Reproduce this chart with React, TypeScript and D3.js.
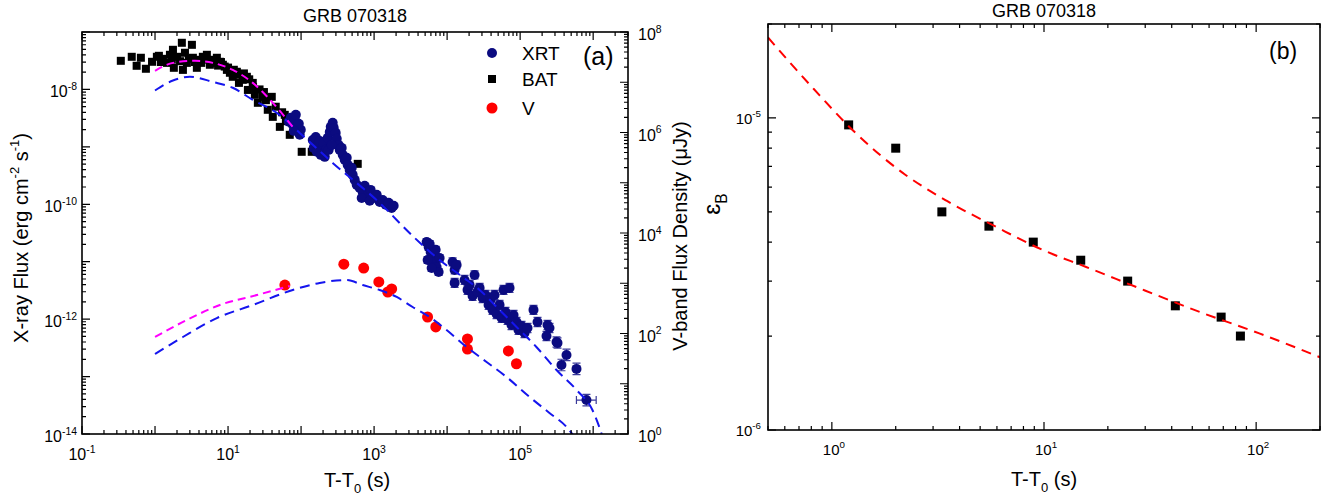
import { useEffect, useRef } from 'react';
import * as d3 from 'd3';

// ---- panel (a) data: t - T0 [s] vs flux ----
// BAT points [t, flux erg cm^-2 s^-1]
const batData: [number, number][] = [
  [0.34, 3.15e-8], [0.48, 3.7e-8], [0.56, 2.58e-8], [0.64, 3.56e-8], [0.75, 2.29e-8],
  [0.91, 3.03e-8], [1.06, 3.7e-8], [1.13, 3.85e-8], [1.2, 3.0e-8], [1.28, 3.41e-8],
  [1.46, 2.9e-8], [1.6, 4.01e-8], [1.7, 3.3e-8], [1.76, 4.9e-8], [1.81, 2.38e-8],
  [2.0, 3.7e-8], [2.2, 3.1e-8], [2.33, 6.49e-8], [2.41, 2.19e-8], [2.57, 4.35e-8],
  [2.73, 2.9e-8], [2.9, 3.4e-8], [3.2, 5.98e-8], [3.3, 3.56e-8], [3.5, 3.0e-8],
  [3.74, 2.38e-8], [4.11, 3.28e-8], [4.3, 2.9e-8], [4.52, 3.7e-8], [4.8, 3.3e-8],
  [5.13, 4.01e-8], [5.64, 2.69e-8], [5.9, 3.1e-8], [6.19, 3.28e-8], [6.6, 2.9e-8],
  [7.03, 3.56e-8], [7.3, 2.6e-8], [7.73, 3.03e-8], [8.0, 3.0e-8], [8.49, 2.69e-8],
  [9.0, 2.5e-8], [9.64, 2.19e-8], [10, 2.4e-8], [10.6, 1.95e-8], [11.6, 1.66e-8],
  [12, 2.2e-8], [13.2, 2.03e-8], [13.5, 1.8e-8], [14.1, 1.3e-8], [15.9, 1.47e-8],
  [16.5, 1.9e-8], [18.1, 1.66e-8], [18.7, 9.8e-9], [19.5, 1.5e-8], [21.8, 1.3e-8],
  [22, 1.1e-8], [23.3, 8.05e-9], [25.6, 5.85e-9], [27, 1.0e-8], [29.9, 7.43e-9],
  [31, 9e-9], [33, 6.5e-9], [35, 4.42e-9], [39.7, 7.43e-9], [41, 3.33e-9],
  [45, 5e-9], [51.2, 2.23e-9], [55, 4e-9], [59.8, 3.61e-9], [62, 2.8e-9],
  [70, 1.62e-9], [80, 2.0e-9], [102, 8.2e-10], [140, 8.2e-10], [597, 5.06e-10],
];

// XRT points [t, flux, error in dex]
const xrtData: [number, number, number][] = [
  [67.9, 2.73e-9, 0.04], [72.3, 3.2e-9, 0.04], [76.9, 2.42e-9, 0.04], [82, 2.95e-9, 0.04],
  [87.3, 2.14e-9, 0.04], [93.1, 2.52e-9, 0.04], [99.1, 1.98e-9, 0.04], [84.7, 3.61e-9, 0.04],
  [95.9, 1.62e-9, 0.04], [79.4, 1.9e-9, 0.04],
  [144.5, 1.32e-9, 0.04], [159, 1.49e-9, 0.04], [169, 1.08e-9, 0.04], [180, 1.27e-9, 0.04],
  [192, 9.6e-10, 0.04], [205, 1.17e-9, 0.04], [218, 8.87e-10, 0.04], [232, 1.44e-9, 0.04],
  [247, 1.82e-9, 0.04], [255, 2.23e-9, 0.04], [271, 2.62e-9, 0.04], [280, 2.14e-9, 0.04],
  [298, 1.75e-9, 0.04], [308, 1.38e-9, 0.04], [328, 1.08e-9, 0.04], [338, 8.87e-10, 0.04],
  [360, 9.6e-10, 0.04], [372, 7.26e-10, 0.04], [396, 5.94e-10, 0.04], [422, 6.43e-10, 0.04],
  [435, 4.85e-10, 0.04], [463, 3.97e-10, 0.04], [494, 4.31e-10, 0.04], [509, 3.25e-10, 0.04],
  [543, 2.66e-10, 0.04], [149, 9.6e-10, 0.04], [164, 8.2e-10, 0.04], [186, 7.26e-10, 0.04],
  [211, 6.7e-10, 0.04], [239, 8.87e-10, 0.04], [263, 1.08e-9, 0.04],
  [578, 2.18e-10, 0.05], [635, 1.93e-10, 0.05], [698, 1.64e-10, 0.05], [743, 2.1e-10, 0.05],
  [817, 1.46e-10, 0.05], [897, 1.78e-10, 0.05], [988, 1.29e-10, 0.05], [1086, 1.46e-10, 0.05],
  [1194, 1.1e-10, 0.05], [1312, 1.19e-10, 0.05], [1442, 9.8e-11, 0.05], [1585, 1.06e-10, 0.05],
  [1742, 8.65e-11, 0.05], [1854, 9.4e-11, 0.05], [676, 1.29e-10, 0.05], [871, 1.15e-10, 0.05],
  [5248, 2.21e-11, 0.06], [5585, 1.81e-11, 0.06], [5943, 1.48e-11, 0.06], [6339, 1.21e-11, 0.06],
  [6745, 9.9e-12, 0.06], [7178, 8.1e-12, 0.06], [7656, 6.64e-12, 0.06], [5408, 1.07e-11, 0.06],
  [6138, 7.8e-12, 0.06], [6966, 1.61e-11, 0.06], [7889, 1.16e-11, 0.06], [5768, 2.04e-11, 0.06],
  [11885, 9.9e-12, 0.07], [12677, 7.2e-12, 0.07], [12677, 4.28e-12, 0.08], [13490, 8.8e-12, 0.07],
  [17338, 4.82e-12, 0.08], [19055, 3.23e-12, 0.08], [20324, 3.95e-12, 0.08], [22336, 2.54e-12, 0.08],
  [23768, 5.89e-12, 0.07], [26122, 2.98e-12, 0.08], [27861, 3.5e-12, 0.08], [30620, 2.34e-12, 0.08],
  [33651, 2.64e-12, 0.08], [36983, 1.77e-12, 0.08], [39355, 2.16e-12, 0.08], [41879, 1.45e-12, 0.08],
  [44668, 2.64e-12, 0.08], [47534, 1.23e-12, 0.08], [52240, 1.77e-12, 0.08], [55719, 1.05e-12, 0.08],
  [59293, 3.23e-12, 0.08], [63096, 1.33e-12, 0.08], [67298, 9.7e-13, 0.08], [71614, 3.5e-12, 0.08],
  [76208, 7.9e-13, 0.08], [81283, 1.18e-12, 0.08], [89330, 8.9e-13, 0.08], [95060, 6.5e-13, 0.08],
  [104472, 7.6e-13, 0.08], [114815, 5.75e-13, 0.08], [126183, 7.0e-13, 0.08], [152405, 1.45e-12, 0.08],
  [172982, 8.9e-13, 0.08], [237137, 7.9e-13, 0.08], [252348, 7.0e-13, 0.08], [229615, 5.1e-13, 0.08],
  [314775, 4.0e-13, 0.09], [325087, 3.85e-13, 0.09], [368129, 1.59e-13, 0.1], [431519, 2.38e-13, 0.1],
  [591562, 1.36e-13, 0.1], [809096, 3.9e-14, 0.1],
];
// horizontal error bars [t, flux, tLow, tHigh]
const xrtTimeErr: [number, number, number, number][] = [[809096, 3.9e-14, 5.9e5, 1.1e6]];

// V band [t, flux density uJy]
const vData: [number, number][] = [
  [60, 920], [385, 2400], [720, 2000], [1160, 1060], [1540, 670], [1740, 770],
  [5400, 213], [7000, 135], [19000, 78], [19000, 49], [69000, 45], [89000, 25],
];

// model curves
const xModelBlue: [number, number][] = [
  [1.0, 9.57e-9], [1.76, 1.43e-8], [3.0, 1.66e-8], [6.2, 1.35e-8], [11.6, 1.07e-8],
  [21.8, 6.59e-9], [46.5, 3.91e-9], [96, 1.75e-9], [271, 5.26e-10], [1190, 1.06e-10],
  [3370, 2.81e-11], [7890, 1.07e-11], [16300, 5.43e-12], [27900, 3.23e-12], [47500, 1.63e-12],
  [89300, 7.31e-13], [167000, 3.28e-13], [315000, 1.3e-13], [592000, 5.85e-14],
  [977000, 2.62e-14], [1.47e6, 6.4e-15],
];
const xModelMagenta: [number, number][] = [
  [1.0, 2.11e-8], [1.76, 2.9e-8], [3.52, 3.15e-8], [6.19, 2.9e-8], [11.6, 2.19e-8],
  [21.8, 1.3e-8], [41, 5.85e-9], [76.9, 2.23e-9],
];
const vModelBlue: [number, number][] = [
  [1.0, 39.1], [2.41, 85.2], [7.03, 203], [21.8, 369], [76.9, 734], [180, 1012],
  [422, 1161], [698, 923], [1190, 734], [2040, 533], [3370, 337], [5770, 213],
  [9840, 117], [18500, 53.9], [34700, 27.1], [65200, 13.6], [135000, 5.45],
  [252000, 2.62], [432000, 1.38], [555000, 0.87],
];
const vModelMagenta: [number, number][] = [
  [1.0, 85.2], [2.73, 186], [7.73, 369], [24.8, 583], [70, 881],
];

// ---- panel (b) data: epsilon_B ----
const ebTime = [1.2, 2.0, 3.3, 5.5, 8.9, 14.9, 24.8, 41.6, 68.4, 84.3];
const ebValue = [9.5e-6, 8.0e-6, 5.0e-6, 4.5e-6, 4.0e-6, 3.5e-6, 3.0e-6, 2.5e-6, 2.3e-6, 2.0e-6];
const ebFit: [number, number][] = [
  [0.5, 1.81e-5], [0.82, 1.24e-5], [1.29, 8.97e-6], [2.21, 6.59e-6], [3.47, 5.43e-6],
  [5.93, 4.48e-6], [9.91, 3.77e-6], [15.8, 3.33e-6], [29.9, 2.8e-6], [56.9, 2.36e-6],
  [103.5, 2.04e-6], [200, 1.71e-6],
];

const xExpA = [-1, 1, 3, 5];
const yExpA = [-14, -12, -10, -8];
const vExpA = [0, 2, 4, 6, 8];
const xExpB = [0, 1, 2];
const yExpB = [-6, -5];

const FONT = '"Liberation Sans", Arial, Helvetica, sans-serif';
const NAVY = '#0b0b80';

function logTicks(lo: number, hi: number) {
  const out: { v: number; major: boolean }[] = [];
  for (let e = Math.floor(Math.log10(lo)); e <= Math.ceil(Math.log10(hi)); e++) {
    for (let k = 1; k < 10; k++) {
      const v = k * Math.pow(10, e);
      if (v >= lo * 0.999 && v <= hi * 1.001) out.push({ v, major: k === 1 });
    }
  }
  return out;
}

// text made of normal / sup / sub parts
function richText(sel: any, parts: [string, string][], size: number) {
  let shift = 0;
  parts.forEach(([txt, kind]) => {
    const target = kind === 'sup' ? -0.45 * size : kind === 'sub' ? 0.3 * size : 0;
    sel
      .append('tspan')
      .attr('dy', target - shift)
      .style('font-size', (kind === 'n' ? size : size * 0.65) + 'px')
      .text(txt);
    shift = target;
  });
}

export default function App() {
  const svgRef = useRef<SVGSVGElement>(null);

  const drawChart = () => {
    if (!svgRef.current) return;
    const svg = d3.select(svgRef.current);
    svg.selectAll('*').remove();
    svg.style('font-family', FONT);

    // ================= panel (a) =================
    const a = { left: 82, right: 628, top: 32, bottom: 434 };
    const xA = d3.scaleLog().domain([0.1, 3e6]).range([a.left, a.right]);
    const yA = d3.scaleLog().domain([1e-14, 1e-7]).range([a.bottom, a.top]);
    const yV = d3.scaleLog().domain([1, 1e8]).range([a.bottom, a.top]);

    const defs = svg.append('defs');
    defs
      .append('clipPath')
      .attr('id', 'clipA')
      .append('rect')
      .attr('x', a.left)
      .attr('y', a.top)
      .attr('width', a.right - a.left)
      .attr('height', a.bottom - a.top);
    defs
      .append('clipPath')
      .attr('id', 'clipB')
      .append('rect')
      .attr('x', 768)
      .attr('y', 24)
      .attr('width', 552)
      .attr('height', 406);

    const gA = svg.append('g');
    const plotA = gA.append('g').attr('clip-path', 'url(#clipA)');

    // BAT squares
    plotA
      .selectAll('.bat')
      .data(batData)
      .enter()
      .append('rect')
      .attr('x', d => xA(d[0]) - 4)
      .attr('y', d => yA(d[1]) - 4)
      .attr('width', 8)
      .attr('height', 8)
      .attr('fill', '#000');

    // XRT error bars
    plotA
      .selectAll('.xerr')
      .data(xrtData)
      .enter()
      .append('line')
      .attr('x1', d => xA(d[0]))
      .attr('x2', d => xA(d[0]))
      .attr('y1', d => yA(d[1] * Math.pow(10, d[2])))
      .attr('y2', d => yA(d[1] / Math.pow(10, d[2])))
      .attr('stroke', '#3a3a9a')
      .attr('stroke-width', 1.2);
    plotA
      .selectAll('.xcap')
      .data(xrtData.filter(d => d[0] > 4000))
      .enter()
      .append('path')
      .attr('d', d => {
        const x = xA(d[0]);
        const y1 = yA(d[1] * Math.pow(10, d[2]));
        const y2 = yA(d[1] / Math.pow(10, d[2]));
        return `M${x - 4},${y1}H${x + 4}M${x - 4},${y2}H${x + 4}`;
      })
      .attr('stroke', '#3a3a9a')
      .attr('stroke-width', 1.2);
    plotA
      .selectAll('.xterr')
      .data(xrtTimeErr)
      .enter()
      .append('path')
      .attr('d', d => {
        const y = yA(d[1]);
        return `M${xA(d[2])},${y}H${xA(d[3])}M${xA(d[2])},${y - 4}V${y + 4}M${xA(d[3])},${y - 4}V${y + 4}`;
      })
      .attr('stroke', '#3a3a9a')
      .attr('stroke-width', 1.2);

    // XRT circles
    plotA
      .selectAll('.xrt')
      .data(xrtData)
      .enter()
      .append('circle')
      .attr('cx', d => xA(d[0]))
      .attr('cy', d => yA(d[1]))
      .attr('r', 5)
      .attr('fill', NAVY);

    // V circles
    plotA
      .selectAll('.vpt')
      .data(vData)
      .enter()
      .append('circle')
      .attr('cx', d => xA(d[0]))
      .attr('cy', d => yV(d[1]))
      .attr('r', 5.5)
      .attr('fill', '#ff0000');

    // model curves
    const lineX = d3
      .line<[number, number]>()
      .x(d => xA(d[0]))
      .y(d => yA(d[1]))
      .curve(d3.curveMonotoneX);
    const lineV = d3
      .line<[number, number]>()
      .x(d => xA(d[0]))
      .y(d => yV(d[1]))
      .curve(d3.curveMonotoneX);
    const curves: [string, string, string][] = [
      [lineX(xModelBlue) as string, '#1515ee', '10,6'],
      [lineV(vModelBlue) as string, '#1515ee', '10,6'],
      [lineX(xModelMagenta) as string, '#ff00ff', '8,5'],
      [lineV(vModelMagenta) as string, '#ff00ff', '8,5'],
    ];
    curves.forEach(([d, color, dash]) => {
      plotA
        .append('path')
        .attr('d', d)
        .attr('fill', 'none')
        .attr('stroke', color)
        .attr('stroke-width', 2)
        .attr('stroke-dasharray', dash);
    });

    // frame + ticks
    gA.append('rect')
      .attr('x', a.left)
      .attr('y', a.top)
      .attr('width', a.right - a.left)
      .attr('height', a.bottom - a.top)
      .attr('fill', 'none')
      .attr('stroke', '#000')
      .attr('stroke-width', 1.6);

    const tickPath: string[] = [];
    logTicks(0.1, 3e6).forEach(t => {
      const x = xA(t.v);
      const len = t.major ? 8 : 4;
      tickPath.push(`M${x},${a.bottom}V${a.bottom - len}M${x},${a.top}V${a.top + len}`);
    });
    logTicks(1e-14, 1e-7).forEach(t => {
      const y = yA(t.v);
      const len = t.major ? 8 : 4;
      tickPath.push(`M${a.left},${y}H${a.left + len}`);
    });
    logTicks(1, 1e8).forEach(t => {
      const y = yV(t.v);
      const len = t.major ? 8 : 4;
      tickPath.push(`M${a.right},${y}H${a.right - len}`);
    });
    gA.append('path').attr('d', tickPath.join('')).attr('stroke', '#000').attr('stroke-width', 1.2);

    // tick labels
    xExpA.forEach(e => {
      const t = gA.append('text').attr('x', xA(Math.pow(10, e))).attr('y', 460).attr('text-anchor', 'middle');
      richText(t, [['10', 'n'], [String(e), 'sup']], 16);
    });
    yExpA.forEach(e => {
      const t = gA.append('text').attr('x', 77).attr('y', yA(Math.pow(10, e)) + 8).attr('text-anchor', 'end');
      richText(t, [['10', 'n'], [String(e), 'sup']], 16);
    });
    vExpA.forEach(e => {
      const t = gA.append('text').attr('x', 638).attr('y', yV(Math.pow(10, e)) + 8).attr('text-anchor', 'start');
      richText(t, [['10', 'n'], [String(e), 'sup']], 16);
    });

    // titles
    gA.append('text')
      .attr('x', (a.left + a.right) / 2)
      .attr('y', 22)
      .attr('text-anchor', 'middle')
      .style('font-size', '18px')
      .text('GRB 070318');
    const xt = gA.append('text').attr('x', 357).attr('y', 487).attr('text-anchor', 'middle');
    richText(xt, [['T-T', 'n'], ['0', 'sub'], [' (s)', 'n']], 20);
    const yt = gA
      .append('text')
      .attr('transform', 'translate(28,238) rotate(-90)')
      .attr('text-anchor', 'middle');
    richText(yt, [['X-ray Flux (erg cm', 'n'], ['-2', 'sup'], [' s', 'n'], ['-1', 'sup'], [')', 'n']], 20);
    gA.append('text')
      .attr('transform', 'translate(687,236) rotate(-90)')
      .attr('text-anchor', 'middle')
      .style('font-size', '20px')
      .text('V-band Flux Density (\u03bcJy)');
    gA.append('text').attr('x', 583).attr('y', 65).style('font-size', '25px').text('(a)');

    // legend
    const leg = gA.append('g');
    leg.append('circle').attr('cx', 492).attr('cy', 53).attr('r', 5).attr('fill', NAVY);
    leg.append('rect').attr('x', 488).attr('y', 75).attr('width', 8).attr('height', 8).attr('fill', '#000');
    leg.append('circle').attr('cx', 492).attr('cy', 108).attr('r', 5.5).attr('fill', '#ff0000');
    [['XRT', 60], ['BAT', 86], ['V', 115]].forEach(([txt, y]) => {
      leg.append('text').attr('x', 522).attr('y', y as number).style('font-size', '19px').text(txt as string);
    });

    // ================= panel (b) =================
    const b = { left: 768, right: 1320, top: 24, bottom: 430 };
    const xB = d3.scaleLog().domain([0.5, 200]).range([b.left, b.right]);
    const yB = d3.scaleLog().domain([1e-6, 2e-5]).range([b.bottom, b.top]);
    const gB = svg.append('g');

    gB.append('g')
      .selectAll('rect')
      .data(ebTime)
      .enter()
      .append('rect')
      .attr('x', (d, i) => xB(d) - 4.5)
      .attr('y', (d, i) => yB(ebValue[i]) - 4.5)
      .attr('width', 9)
      .attr('height', 9)
      .attr('fill', '#000');

    const lineB = d3
      .line<[number, number]>()
      .x(d => xB(d[0]))
      .y(d => yB(d[1]))
      .curve(d3.curveMonotoneX);
    gB.append('path')
      .attr('clip-path', 'url(#clipB)')
      .attr('d', lineB(ebFit))
      .attr('fill', 'none')
      .attr('stroke', '#ff0000')
      .attr('stroke-width', 2)
      .attr('stroke-dasharray', '10,7');

    gB.append('rect')
      .attr('x', b.left)
      .attr('y', b.top)
      .attr('width', b.right - b.left)
      .attr('height', b.bottom - b.top)
      .attr('fill', 'none')
      .attr('stroke', '#000')
      .attr('stroke-width', 1.6);

    const tickB: string[] = [];
    logTicks(0.5, 200).forEach(t => {
      const x = xB(t.v);
      const len = t.major ? 8 : 4;
      tickB.push(`M${x},${b.bottom}V${b.bottom - len}M${x},${b.top}V${b.top + len}`);
    });
    logTicks(1e-6, 2e-5).forEach(t => {
      const y = yB(t.v);
      const len = t.major ? 8 : 4;
      tickB.push(`M${b.left},${y}H${b.left + len}M${b.right},${y}H${b.right - len}`);
    });
    gB.append('path').attr('d', tickB.join('')).attr('stroke', '#000').attr('stroke-width', 1.2);

    xExpB.forEach(e => {
      const t = gB.append('text').attr('x', xB(Math.pow(10, e)) + 2).attr('y', 455).attr('text-anchor', 'middle');
      richText(t, [['10', 'n'], [String(e), 'sup']], 15);
    });
    yExpB.forEach(e => {
      const t = gB.append('text').attr('x', 761).attr('y', yB(Math.pow(10, e)) + 6).attr('text-anchor', 'end');
      richText(t, [['10', 'n'], [String(e), 'sup']], 15);
    });

    gB.append('text')
      .attr('x', (b.left + b.right) / 2)
      .attr('y', 17)
      .attr('text-anchor', 'middle')
      .style('font-size', '18px')
      .text('GRB 070318');
    const xtB = gB.append('text').attr('x', 1044).attr('y', 486).attr('text-anchor', 'middle');
    richText(xtB, [['T-T', 'n'], ['0', 'sub'], [' (s)', 'n']], 20);
    const ytB = gB
      .append('text')
      .attr('transform', 'translate(720,204) rotate(-90)')
      .attr('text-anchor', 'middle');
    richText(ytB, [['\u025b', 'n'], ['B', 'sub']], 24);
    gB.append('text').attr('x', 1269).attr('y', 59).style('font-size', '23px').text('(b)');
  };

  useEffect(() => {
    drawChart();
  }, []);

  return (
    <div style={{ position: 'absolute', left: 0, top: 0, background: '#fff' }}>
      <svg ref={svgRef} width={1337} height={500}></svg>
    </div>
  );
}
